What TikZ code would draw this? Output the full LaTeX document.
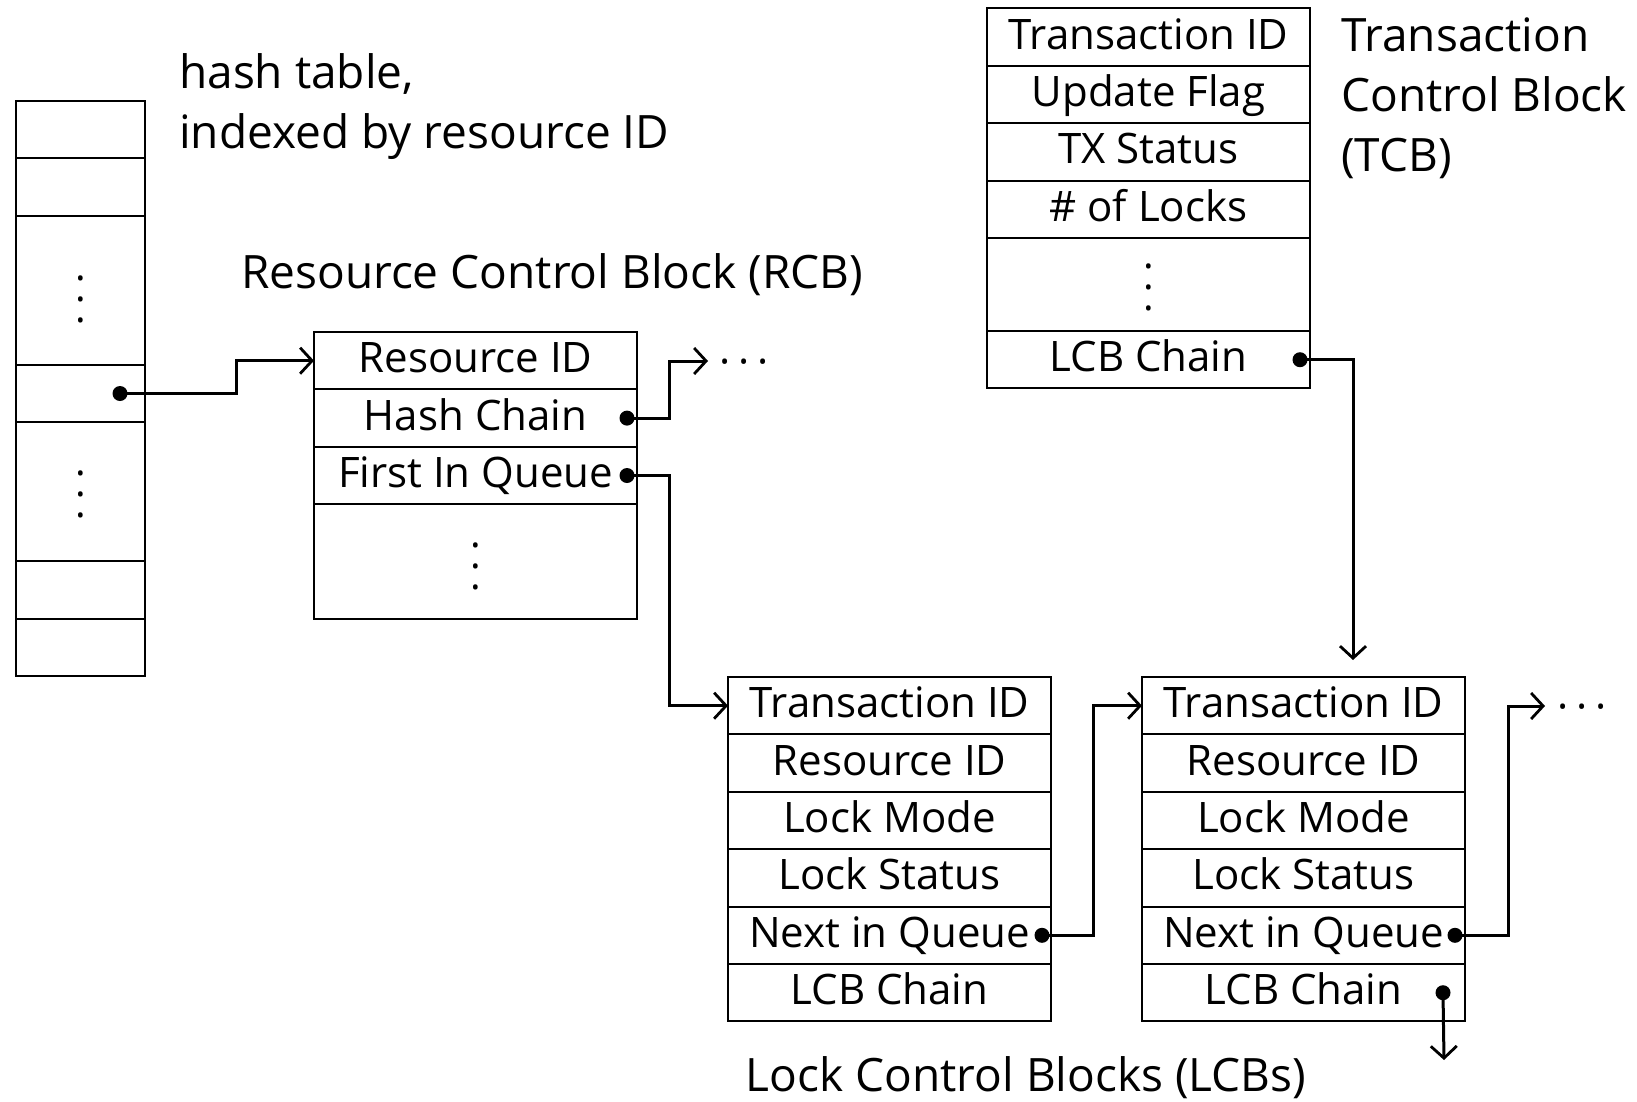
\documentclass[tikz,border=0pt]{standalone}
\usepackage{fontspec}
\setmainfont{Open Sans}
\usetikzlibrary{arrows.meta}
\begin{document}
\begin{tikzpicture}[x=1pt,y=-1pt,
  base/.style={font=\fontsize{42}{48}\selectfont},
  big/.style={font=\fontsize{46}{60}\selectfont},
  cell/.style={base, draw, line width=2pt, minimum width=323pt, minimum height=57.4pt,
    inner sep=0pt, outer sep=0pt, anchor=north west, text height=33pt, text depth=9pt},
  hcell/.style={cell, minimum width=129pt},
  vdot/.style={font=\fontsize{40}{21}\selectfont, align=center, inner sep=0pt},
  hdot/.style={base, inner sep=0pt, anchor=west},
  lbl/.style={big, inner sep=0pt},
  arr/.style={line width=3pt, -{Straight Barb[length=12pt,width=26pt,line width=2.8pt]}},
]
\useasboundingbox (0,0) rectangle (1637,1101);

% hash table
\node[hcell] (h1) at (16,101) {};
\node[hcell] (h2) at (h1.south west) {};
\node[hcell, minimum height=149pt] (h3) at (h2.south west) {};
\node[hcell] (h4) at (h3.south west) {};
\node[hcell, minimum height=139pt] (h5) at (h4.south west) {};
\node[hcell] (h6) at (h5.south west) {};
\node[hcell] (h7) at (h6.south west) {};
\node[vdot] (hd1) at (80.5,299) {.\\.\\.};
\node[vdot] (hd2) at (80.5,494) {.\\.\\.};
\node[lbl, align=left, anchor=base west] (hlabel) at (179,148) {hash table,\\indexed by resource ID};

% RCB
\node[lbl, anchor=base] (rcblabel) at (552,288) {Resource Control Block (RCB)};
\node[cell] (r1) at (314,332) {Resource ID};
\node[cell] (r2) at (r1.south west) {Hash Chain};
\node[cell] (r3) at (r2.south west) {First In Queue};
\node[cell, minimum height=115pt] (r4) at (r3.south west) {};
\node[vdot] (rd) at (475.5,566) {.\\.\\.};

% TCB
\node[cell] (t1) at (987,8.4) {Transaction ID};
\node[cell] (t2) at (t1.south west) {Update Flag};
\node[cell] (t3) at (t2.south west) {TX Status};
\node[cell] (t4) at (t3.south west) {\# of Locks};
\node[cell, minimum height=93pt] (t5) at (t4.south west) {};
\node[cell] (t6) at (t5.south west) {LCB Chain};
\node[vdot] (td) at (1148.5,287) {.\\.\\.};
\node[lbl, align=left, anchor=base west] (tlabel) at (1341,171) {Transaction\\Control Block\\(TCB)};

% LCB 1
\node[cell] (a1) at (728,677) {Transaction ID};
\node[cell] (a2) at (a1.south west) {Resource ID};
\node[cell] (a3) at (a2.south west) {Lock Mode};
\node[cell] (a4) at (a3.south west) {Lock Status};
\node[cell] (a5) at (a4.south west) {Next in Queue};
\node[cell] (a6) at (a5.south west) {LCB Chain};

% LCB 2
\node[cell] (b1) at (1142,677) {Transaction ID};
\node[cell] (b2) at (b1.south west) {Resource ID};
\node[cell] (b3) at (b2.south west) {Lock Mode};
\node[cell] (b4) at (b3.south west) {Lock Status};
\node[cell] (b5) at (b4.south west) {Next in Queue};
\node[cell] (b6) at (b5.south west) {LCB Chain};
\node[lbl, anchor=base] (lcblabel) at (1026,1091) {Lock Control Blocks (LCBs)};

% pointer origins
\coordinate (hp) at ([xshift=-25pt]h4.east);
\coordinate (hc) at ([xshift=-10pt]r2.east);
\coordinate (fq) at ([xshift=-10pt]r3.east);
\coordinate (tc) at ([xshift=-10pt]t6.east);
\coordinate (an) at ([xshift=-9pt]a5.east);
\coordinate (bn) at ([xshift=-10pt]b5.east);
\coordinate (bc) at ([xshift=-22pt]b6.east);
\coordinate (hcend) at (708,361);
\coordinate (bnend) at (1545,706);
\coordinate (tcend) at (1353,660);
\coordinate (bcend) at (1444,1060);

\node[hdot] (more1) at (719,368) {·\hspace{8pt}·\hspace{8pt}·};
\node[hdot] (more2) at (1557,713) {·\hspace{8pt}·\hspace{8pt}·};

% connectors
\draw[arr] (hp) -- ++(116,0) |- (r1.west);
\draw[arr] (hc) -- ++(42,0) |- (hcend);
\draw[arr] (fq) -- ++(42,0) |- (a1.west);
\draw[arr] (an) -- ++(51,0) |- (b1.west);
\draw[arr] (bn) -- ++(53,0) |- (bnend);
\draw[arr] (tc) -| (tcend);
\draw[arr] (bc) -- (bcend);

\foreach \p in {hp,hc,fq,tc,an,bn,bc} \fill (\p) circle (7.5pt);
\end{tikzpicture}
\end{document}
